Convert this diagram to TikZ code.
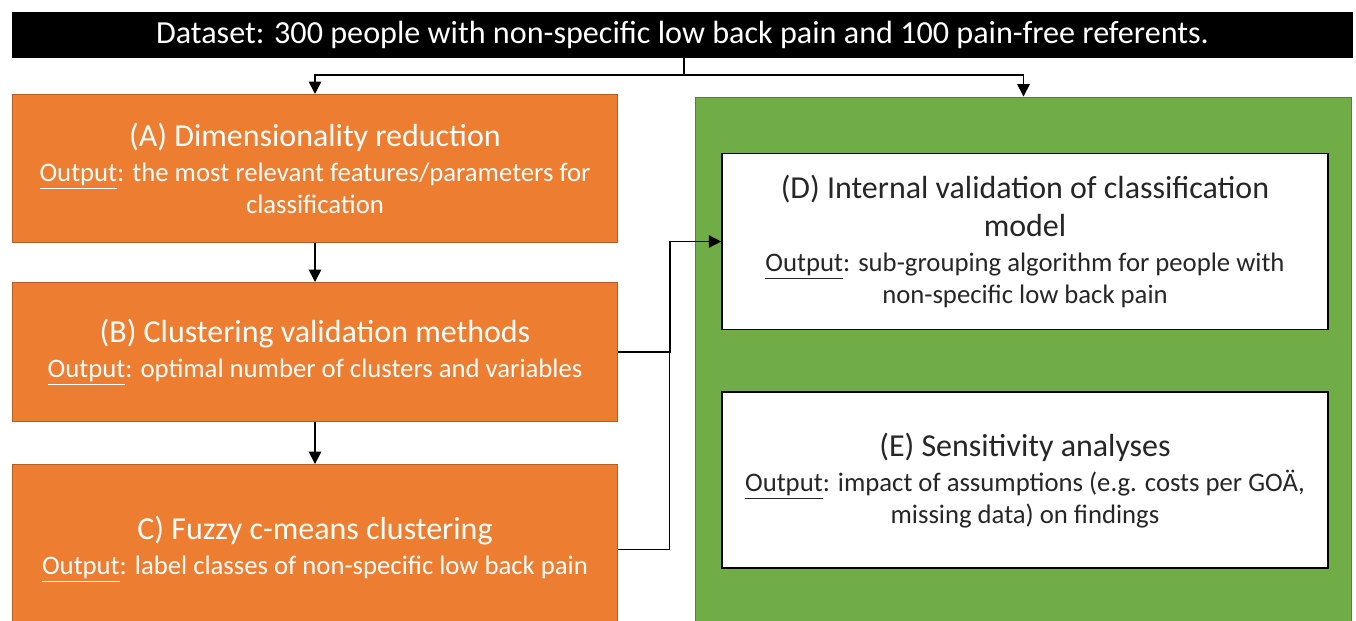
\documentclass[tikz,border=0pt]{standalone}
\usepackage{fontspec}
\setmainfont{Carlito}
\usepackage{xcolor}
\usetikzlibrary{positioning, arrows.meta}

\definecolor{stageorange}{HTML}{ED7D31}
\definecolor{validgreen}{HTML}{70AD47}

\newcommand{\titlefont}{\fontsize{18.2}{21.5}\selectfont}
\newcommand{\outfont}{\fontsize{15.2}{18}\selectfont}

\tikzset{
	stage/.style={draw=stageorange!75!black, line width=0.6pt, fill=stageorange,
		text=white, minimum width=12.12cm, align=center, inner sep=2pt, font=\outfont},
	result/.style={draw=black, line width=1pt, fill=white, text=black!85,
		minimum width=12.12cm, minimum height=3.52cm, align=center, inner sep=2pt, font=\outfont},
	flow/.style={line width=0.9pt},
}

\begin{document}
\begin{tikzpicture}[x=0.02cm, y=-0.02cm, >={Triangle[length=7pt, width=7pt]}]
		\useasboundingbox (0,0) rectangle (1356,620);

		% dataset header
		\node[fill=black, text=white, minimum width=26.82cm, minimum height=0.92cm,
			inner sep=0pt, font=\fontsize{18.3}{21}\selectfont] (data) at (682.5,35)
			{Dataset: 300 people with non-specific low back pain and 100 pain-free referents.};

		% left column
		\node[stage, minimum height=2.96cm] (dimred) at (315,168.5)
			{\titlefont (A) Dimensionality reduction\\[2pt]
			 \underline{Output}: the most relevant features/parameters for\\classification};
		\node[stage, minimum height=2.78cm, below=0.78cm of dimred] (clusval)
			{\titlefont (B) Clustering validation methods\\[2pt]
			 \underline{Output}: optimal number of clusters and variables};
		\node[stage, minimum height=3.4cm, below=0.84cm of clusval] (fuzzy)
			{\titlefont C) Fuzzy c-means clustering\\[2pt]
			 \underline{Output}: label classes of non-specific low back pain};

		% right column
		\node[draw=validgreen!75!black, line width=0.6pt, fill=validgreen,
			minimum width=13.14cm, minimum height=11.06cm] (valid) at (1023.5,373.5) {};
		\node[result] (intval) at (1025,241.5)
			{\titlefont (D) Internal validation of classification\\[3.5pt]\titlefont model\\[2pt]
			 \underline{Output}: sub-grouping algorithm for people with\\non-specific low back pain};
		\node[result, below=1.22cm of intval] (sens)
			{\titlefont (E) Sensitivity analyses\\[2pt]
			 \underline{Output}: impact of assumptions (e.g. costs per GOÄ,\\missing data) on findings};

		\coordinate (split) at (684,75);
		\draw[flow] (data.south -| split) -- (split);
		\draw[flow, ->] (split) -| (dimred.north);
		\draw[flow, ->] (split) -| (valid.north);
		\draw[flow, ->] (dimred) -- (clusval);
		\draw[flow, ->] (clusval) -- (fuzzy);
		\draw[flow, ->] (clusval.east) -- ++(52,0) |- (intval.west);
		\draw[flow] (fuzzy.east) -- ++(51,0) |- (intval.west);
	\end{tikzpicture}
\end{document}
